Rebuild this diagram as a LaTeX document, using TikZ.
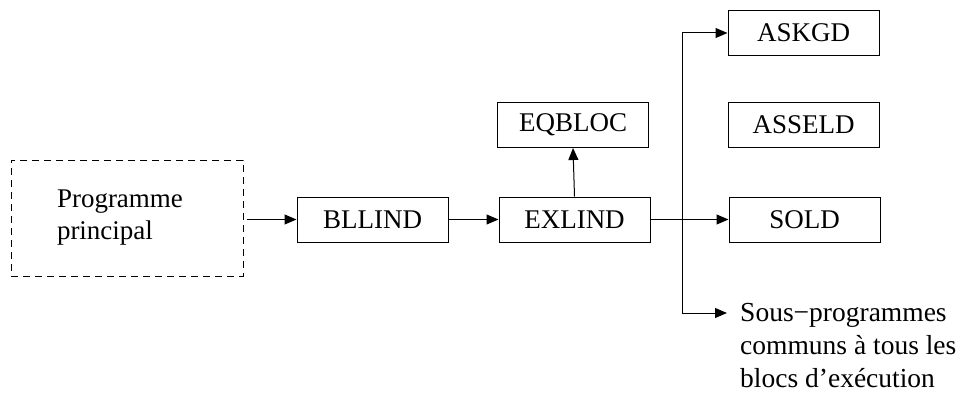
\documentclass[tikz,border=0pt]{standalone}
\usepackage{fontspec}
\setmainfont{Liberation Serif}
\usetikzlibrary{arrows.meta}
\begin{document}
\begin{tikzpicture}[x=1pt,y=-1pt,
  box/.style={draw,line width=1pt,minimum width=151pt,minimum height=45pt,inner sep=0pt,font=\fontsize{27}{32}\selectfont},
  arr/.style={-{Triangle[length=12pt,width=10pt]},line width=1pt},
  txt/.style={font=\fontsize{27.5}{33}\selectfont}]
\useasboundingbox (0,0) rectangle (957,401);
\node[draw,line width=1pt,dash pattern=on 7pt off 5pt,minimum width=232pt,minimum height=116pt,
      text width=140pt,align=left,inner sep=0pt,font=\fontsize{27}{32}\selectfont] (main) at (127,218) {Programme\\principal};
\node[box] (bllind) at (372.5,219.5) {BLLIND};
\node[box] (exlind) at (574.5,219.5) {EXLIND};
\node[box] (eqbloc) at (573,125) {EQBLOC};
\node[box] (askgd) at (803.5,33) {ASKGD};
\node[box] (asseld) at (803.5,125) {ASSELD};
\node[box] (sold) at (804.5,219.5) {SOLD};
\node[txt,align=left,anchor=north west,inner sep=0pt] (sous) at (740,303) {Sous−programmes\\communs à tous les\\blocs d’exécution};
\coordinate (j) at (682,219.5);
\coordinate (subend) at (727,313);
\draw[arr,shorten <=3pt] (main.east |- bllind.west) -- (bllind.west);
\draw[arr] (bllind.east) -- (exlind.west);
\draw[arr] (exlind.north) -- (eqbloc.south);
\draw[arr] (exlind.east) -- (sold.west);
\draw[arr] (j) |- (askgd.west);
\draw[arr] (j) |- (subend);
\end{tikzpicture}
\end{document}
